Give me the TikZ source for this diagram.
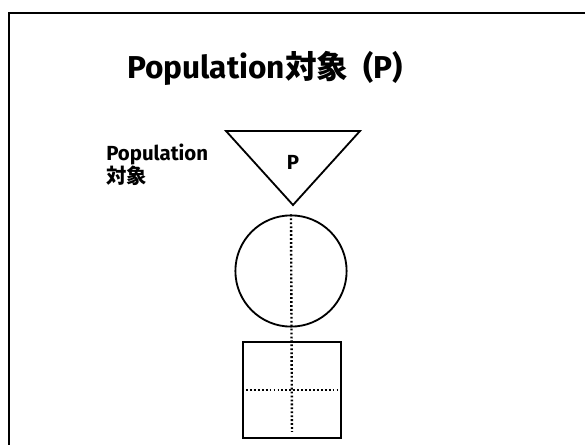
\documentclass[tikz,border=0pt]{standalone}
\usepackage{fontspec}
\setmainfont{Fira Sans}
\newfontfamily\cjk{Noto Sans CJK JP}
\usetikzlibrary{positioning}
\tikzset{
  frameline/.style={draw=black, line width=1.4pt},
  shapeline/.style={draw=black, line width=1.3pt},
  guideline/.style={draw=black, line width=1.7pt, dash pattern=on 1.3pt off 1.5pt},
  titletext/.style={font=\fontsize{22.5}{26}\selectfont\bfseries, inner sep=0pt},
  labeltext/.style={font=\fontsize{14.5}{16}\selectfont\bfseries, align=left, inner sep=0pt},
}

\begin{document}
\begin{tikzpicture}[x=0.025cm, y=-0.025cm]
    \clip (0,0) rectangle (585,445);
    % Frame
    \draw[frameline] (9,13) rectangle (620,480);

    % Title
    \node[titletext] (title) at (265,68) {Population{\cjk 対象}\ \ (P)};

    % Population triangle
    \coordinate (tl) at (226,131);
    \coordinate (tr) at (360,131);
    \coordinate (apex) at (293,205);
    \draw[shapeline, line join=miter] (tl) -- (tr) -- (apex) -- cycle;
    \node[labeltext] (p) at (293,162) {P};
    \node[labeltext, anchor=north west] (poplabel) at (106,144)
         {Population\\{\cjk 対象}};

    % Circle and grid
    \node[circle, shapeline, minimum size=2.78cm, inner sep=0pt] (ring) at (291,271) {};
    \node[rectangle, shapeline, minimum width=2.45cm, minimum height=2.4cm,
          inner sep=0pt] (grid) at (292,390) {};

    % Dotted guides
    \draw[guideline, shorten >=5pt] (ring.north) -- (grid.south);
    \draw[guideline] (grid.west) -- (grid.east);
\end{tikzpicture}
\end{document}
